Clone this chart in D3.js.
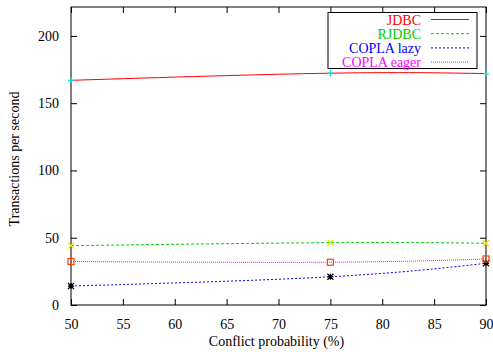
<!DOCTYPE html>
<html><head><meta charset="utf-8">
<script src="https://cdn.jsdelivr.net/npm/d3@7"></script>
<style>body{margin:0;background:#fff}svg{display:block}</style>
</head><body>
<script>
const xValues = [50, 75, 90];
const jdbc = [167, 172.3, 172];
const rjdbc = [44.1, 46.3, 45.9];
const coplaLazy = [14.1, 21, 31];
const coplaEager = [32.3, 31.8, 34.2];
const xTicks = [50, 55, 60, 65, 70, 75, 80, 85, 90];
const yTicks = [0, 50, 100, 150, 200];
const seriesNames = ["JDBC", "RJDBC", "COPLA lazy", "COPLA eager"];
const lineColors = ["#ff0000", "#00cc00", "#0000ff", "#ff00ff"];
const pointColors = ["#00e5e5", "#e5e500", "#000000", "#ff4000"];
const dashes = [null, "3,2", "2,2", "1,1"];
const pointTypes = ["plus", "cross", "star", "square"];
const FONT = "Liberation Serif";
const FS = 14;

const W = 493, H = 352;
const L = 71, R = 486, T = 7, B = 305;
const svg = d3.select("body").append("svg").attr("width", W).attr("height", H);
const x = d3.scaleLinear().domain([50, 90]).range([L, R]);
const y = d3.scaleLinear().domain([0, 221.5]).range([B, T]);

svg.append("rect").attr("x", L).attr("y", T).attr("width", R - L).attr("height", B - T)
  .attr("fill", "none").attr("stroke", "#000").attr("stroke-width", 1);

const xa = svg.append("g").attr("transform", `translate(0,${B})`)
  .call(d3.axisBottom(x).tickValues(xTicks).tickSize(-6).tickPadding(14).tickFormat(d3.format("d")));
const xt = svg.append("g").attr("transform", `translate(0,${T})`)
  .call(d3.axisTop(x).tickValues(xTicks).tickSize(-6).tickFormat(""));
const ya = svg.append("g").attr("transform", `translate(${L},0)`)
  .call(d3.axisLeft(y).tickValues(yTicks).tickSize(-6).tickPadding(12).tickFormat(d3.format("d")));
const yr = svg.append("g").attr("transform", `translate(${R},0)`)
  .call(d3.axisRight(y).tickValues(yTicks).tickSize(-6).tickFormat(""));
[xa, xt, ya, yr].forEach(g => {
  g.attr("font-family", FONT);
  g.select(".domain").remove();
  g.selectAll("line").attr("stroke", "#000");
  g.selectAll("text").attr("font-size", FS).attr("fill", "#000").attr("font-family", FONT);
});

svg.append("text").attr("x", (L + R) / 2 - 2).attr("y", 346).attr("text-anchor", "middle")
  .attr("font-family", FONT).attr("font-size", FS).text("Conflict probability (%)");
svg.append("text").attr("transform", `translate(19,${(T + B) / 2 + 3}) rotate(-90)`)
  .attr("font-family", FONT).attr("text-anchor", "middle").attr("font-size", FS).text("Transactions per second");

const allSeries = [jdbc, rjdbc, coplaLazy, coplaEager];
const line = d3.line().x((d, i) => x(xValues[i])).y(d => y(d)).curve(d3.curveNatural);

function drawPoint(g, type, cx, cy, color) {
  const s = 3;
  if (type === "plus") {
    g.append("path").attr("d", `M${cx - s},${cy}H${cx + s}M${cx},${cy - s}V${cy + s}`).attr("stroke", color).attr("stroke-width", 1.2);
  } else if (type === "cross") {
    g.append("path").attr("d", `M${cx - s},${cy - s}L${cx + s},${cy + s}M${cx - s},${cy + s}L${cx + s},${cy - s}`).attr("stroke", color).attr("stroke-width", 1.2);
  } else if (type === "star") {
    g.append("path").attr("d", `M${cx - s},${cy}H${cx + s}M${cx},${cy - s}V${cy + s}M${cx - s},${cy - s}L${cx + s},${cy + s}M${cx - s},${cy + s}L${cx + s},${cy - s}`).attr("stroke", color).attr("stroke-width", 1.2);
  } else {
    g.append("rect").attr("x", cx - s).attr("y", cy - s).attr("width", 2 * s).attr("height", 2 * s)
      .attr("fill", "none").attr("stroke", color).attr("stroke-width", 1.2);
  }
}

allSeries.forEach((vals, k) => {
  const p = svg.append("path").datum(vals).attr("d", line).attr("fill", "none")
    .attr("stroke", lineColors[k]).attr("stroke-width", 1);
  if (dashes[k]) p.attr("stroke-dasharray", dashes[k]);
});
allSeries.forEach((vals, k) => {
  const g = svg.append("g");
  vals.forEach((v, i) => drawPoint(g, pointTypes[k], x(xValues[i]), y(v), pointColors[k]));
});

const lg = svg.append("g");
lg.append("rect").attr("x", 328).attr("y", 12.5).attr("width", 149).attr("height", 56)
  .attr("fill", "#fff").attr("stroke", "#000").attr("stroke-width", 1);
seriesNames.forEach((n, k) => {
  const yy = 19.5 + k * 14.2;
  lg.append("text").attr("x", 421).attr("y", yy + 5).attr("text-anchor", "end")
    .attr("font-family", FONT).attr("font-size", FS).attr("fill", lineColors[k]).text(n);
  const l = lg.append("line").attr("x1", 431).attr("x2", 469).attr("y1", yy).attr("y2", yy)
    .attr("stroke", lineColors[k]).attr("stroke-width", 1);
  if (dashes[k]) l.attr("stroke-dasharray", dashes[k]);
});
</script>
</body></html>
